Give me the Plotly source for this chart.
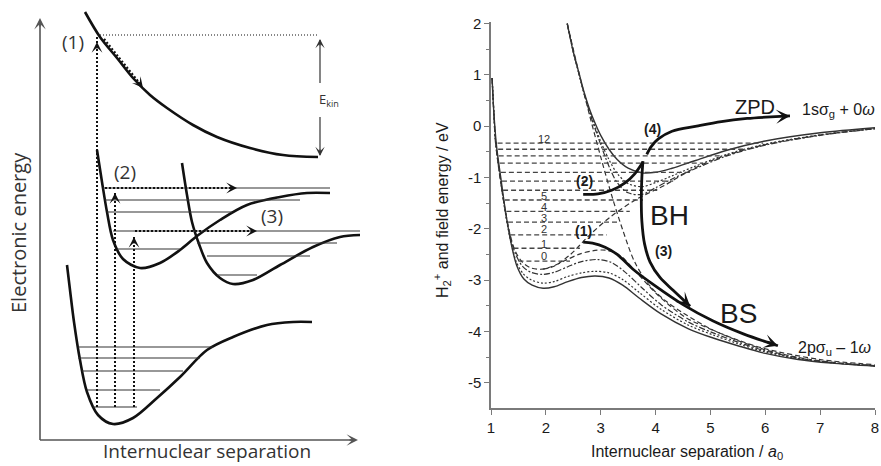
import plotly.graph_objects as go

W, H = 881, 466

# ================= LEFT PANEL: schematic potential curves =================
# schematic units: R (internuclear separation), E (electronic energy)
upper_R = [45, 60, 77, 93, 110, 127, 153, 177, 210, 243, 278]
upper_E = [428, 403, 382, 362, 345, 332, 315, 303, 292, 285, 283]

wellA_R = [57, 62, 67, 73, 83, 100, 120, 140, 157, 180, 207, 240, 267, 290]
wellA_E = [290, 258, 228, 200, 181, 172, 177, 190, 204, 220, 235, 243, 247, 247]

wellB_R = [142, 147, 152, 159, 167, 180, 193, 213, 240, 273, 300, 320]
wellB_E = [277, 245, 218, 196, 177, 162, 156, 160, 175, 193, 203, 205]

ground_R = [27, 30, 34, 40, 47, 58, 73, 93, 117, 140, 167, 193, 227, 253, 272]
ground_E = [175, 150, 118, 80, 48, 25, 16, 22, 42, 63, 90, 103, 115, 118, 118]

ground_lvl_E = [93, 82, 69, 50, 33]
ground_lvl_R0 = [38, 38, 42, 47, 53]
ground_lvl_R1 = [173, 160, 143, 120, 97]

exc_lvl_E = [252, 240, 228, 209, 197, 191, 184, 165]
exc_lvl_R0 = [63, 65, 67, 73, 157, 77, 167, 177]
exc_lvl_R1 = [290, 260, 192, 320, 297, 140, 270, 217]

exc_R = [57, 75, 94]
exc_top_E = [405, 247, 203]
exc_start_E = 33

# ================= RIGHT PANEL: H2+ dressed potentials =================
L_solid_x = [1.02, 1.05, 1.1, 1.18, 1.27, 1.37, 1.47, 1.6, 1.75, 1.95, 2.15, 2.4, 2.65, 2.9, 3.15, 3.4, 3.7, 4.1, 4.6, 5.05, 5.5, 6.0, 6.6, 7.2, 8.0]
L_solid_y = [0.94, 0.3, -0.38, -1.02, -1.7, -2.3, -2.72, -2.98, -3.1, -3.16, -3.13, -3.03, -2.95, -2.92, -2.96, -3.1, -3.35, -3.66, -3.95, -4.13, -4.28, -4.43, -4.55, -4.62, -4.68]

L_dot_x = [1.02, 1.05, 1.09, 1.17, 1.26, 1.36, 1.46, 1.59, 1.74, 1.95, 2.15, 2.4, 2.65, 2.9, 3.15, 3.4, 3.7, 4.1, 4.6, 5.05, 5.5, 6.0, 6.6, 7.2, 8.0]
L_dot_y = [0.94, 0.3, -0.35, -1.0, -1.68, -2.25, -2.64, -2.88, -3.0, -3.06, -3.03, -2.93, -2.86, -2.83, -2.86, -2.99, -3.24, -3.57, -3.88, -4.07, -4.24, -4.4, -4.53, -4.61, -4.67]

L_dd_x = [1.02, 1.05, 1.08, 1.16, 1.25, 1.35, 1.45, 1.58, 1.73, 1.95, 2.15, 2.4, 2.65, 2.95, 3.2, 3.45, 3.75, 4.1, 4.6, 5.05, 5.5, 6.0, 6.6, 7.2, 8.0]
L_dd_y = [0.94, 0.3, -0.3, -0.95, -1.6, -2.15, -2.5, -2.74, -2.85, -2.89, -2.85, -2.74, -2.64, -2.6, -2.66, -2.85, -3.15, -3.48, -3.82, -4.03, -4.21, -4.38, -4.52, -4.61, -4.67]

L_dash_x = [1.02, 1.05, 1.08, 1.15, 1.24, 1.34, 1.44, 1.57, 1.72, 1.9, 2.1, 2.35, 2.6, 2.85, 3.1, 3.35, 3.65, 4.05, 4.55, 5.05, 5.5, 6.0, 6.6, 7.2, 8.0]
L_dash_y = [0.94, 0.3, -0.28, -0.9, -1.52, -2.08, -2.43, -2.65, -2.76, -2.79, -2.74, -2.62, -2.5, -2.43, -2.42, -2.52, -2.85, -3.3, -3.73, -3.98, -4.18, -4.36, -4.51, -4.6, -4.67]

U_x = [2.39, 2.5, 2.6, 2.7, 2.8, 2.9, 3.0, 3.15, 3.3, 3.5, 3.75, 4.0, 4.3, 4.7, 5.3, 6.0, 7.0, 8.0]
U_solid_y = [2.0, 1.45, 1.05, 0.65, 0.32, 0.05, -0.18, -0.45, -0.65, -0.82, -0.91, -0.9, -0.82, -0.68, -0.47, -0.29, -0.13, -0.03]
U_dot_y = [2.0, 1.45, 1.04, 0.63, 0.28, -0.02, -0.3, -0.65, -0.92, -1.12, -1.18, -1.1, -0.97, -0.79, -0.55, -0.35, -0.17, -0.05]
U_dd_y = [2.0, 1.45, 1.03, 0.62, 0.26, -0.06, -0.36, -0.78, -1.1, -1.3, -1.33, -1.2, -1.03, -0.84, -0.58, -0.37, -0.18, -0.05]

D1_x = [1.95, 2.15, 2.45, 2.8, 3.2, 3.66, 4.17, 4.6, 5.0, 5.5, 6.0, 6.6, 7.3, 8.0]
D1_y = [-2.79, -2.73, -2.5, -2.12, -1.75, -1.42, -1.15, -0.88, -0.68, -0.5, -0.36, -0.24, -0.13, -0.05]

D2_x = [2.39, 2.6, 2.8, 3.0, 3.2, 3.4, 3.62, 3.9, 4.2, 4.5, 5.0, 5.5, 6.0, 7.0, 8.0]
D2_y = [2.0, 1.05, 0.2, -0.6, -1.35, -2.02, -2.65, -3.12, -3.42, -3.64, -3.95, -4.17, -4.34, -4.55, -4.65]

lvl_y = [-2.63, -2.38, -2.12, -1.87, -1.66, -1.44, -1.25, -1.07, -0.90, -0.72, -0.58, -0.45, -0.33]
lvl_x0 = [1.5, 1.41, 1.35, 1.31, 1.28, 1.25, 1.22, 1.2, 1.18, 1.16, 1.14, 1.13, 1.12]
lvl_x1 = [2.44, 2.62, 3.11, 3.3, 3.53, 3.77, 4.03, 4.32, 4.63, 4.86, 5.2, 5.6, 5.96]
lvl_labels = ["0", "1", "2", "3", "4", "5", "12"]
lvl_label_y = [-2.53, -2.3, -2.01, -1.79, -1.58, -1.36, -0.25]

arr1_x = [2.68, 2.85, 3.08, 3.3, 3.6, 4.0, 4.5, 5.05, 5.6, 6.23]
arr1_y = [-2.26, -2.28, -2.36, -2.5, -2.8, -3.12, -3.48, -3.8, -4.05, -4.28]
arr2_x = [2.68, 2.95, 3.2, 3.45, 3.62, 3.77]
arr2_y = [-1.33, -1.32, -1.25, -1.1, -0.93, -0.7]
arr3_x = [3.77, 3.75, 3.74, 3.75, 3.8, 3.9, 4.08, 4.32, 4.63]
arr3_y = [-0.68, -1.0, -1.4, -1.85, -2.3, -2.65, -2.95, -3.2, -3.51]
arr4_x = [3.84, 3.92, 4.05, 4.3, 4.75, 5.2, 5.67, 6.1, 6.45]
arr4_y = [-0.55, -0.4, -0.25, -0.1, 0.0, 0.09, 0.15, 0.18, 0.2]

fig = go.Figure()

LFONT = "Open Sans, DejaVu Sans, sans-serif"
RFONT = "Arial, Liberation Sans, sans-serif"


def lline(xs, ys, width=2.6, dash="solid", color="#111111", xa="x", ya="y", spline=True):
    fig.add_trace(go.Scatter(
        x=xs, y=ys, mode="lines", xaxis=xa, yaxis=ya, hoverinfo="skip",
        line=dict(color=color, width=width, dash=dash,
                  shape="spline" if spline else "linear", smoothing=0.9),
        showlegend=False))


def head(x, y, ax, ay, xa="x", ya="y", width=1.5, size=1.2, color="#111111"):
    fig.add_annotation(x=x, y=y, ax=ax, ay=ay, xref=xa, yref=ya,
                       axref=xa, ayref=ya, showarrow=True, arrowhead=3,
                       arrowsize=size, arrowwidth=width, arrowcolor=color,
                       text="", standoff=0)


# ---- left panel curves ----
lline(upper_R, upper_E)
lline(wellA_R, wellA_E)
lline(wellB_R, wellB_E)
lline(ground_R, ground_E)

for e, r0, r1 in zip(ground_lvl_E, ground_lvl_R0, ground_lvl_R1):
    lline([r0, r1], [e, e], width=1.2, color="#333333", spline=False)
for e, r0, r1 in zip(exc_lvl_E, exc_lvl_R0, exc_lvl_R1):
    lline([r0, r1], [e, e], width=1.2, color="#333333", spline=False)

DOT = "2px,2px"
for r, top in zip(exc_R, exc_top_E):
    lline([r, r], [exc_start_E, top], width=2, dash=DOT, spline=False)
head(exc_R[0], 398, exc_R[0], 390)
head(exc_R[1], exc_top_E[1], exc_R[1], exc_top_E[1] - 8)
head(exc_R[2], exc_top_E[2], exc_R[2], exc_top_E[2] - 8)

# top dotted reference line
lline([60, 278], [405, 405], width=1.2, dash="1px,2px", spline=False)
# horizontal dotted arrows (2) and (3)
lline([65, 195], [252, 252], width=2.2, dash=DOT, spline=False)
head(197, 252, 189, 252)
lline([95, 215], [209, 209], width=2.2, dash=DOT, spline=False)
head(217, 209, 209, 209)
# diagonal dotted arrow along repulsive curve
lline([64, 101], [401, 355], width=2.2, dash=DOT, spline=False)
head(103, 352, 97, 359.5)
# E_kin double arrow
lline([280, 280], [357, 400], width=1.2, color="#333333", spline=False)
lline([280, 280], [323, 285], width=1.2, color="#333333", spline=False)
head(280, 401, 280, 393, width=1.2, size=1.3, color="#333333")
head(280, 284, 280, 292, width=1.2, size=1.3, color="#333333")

# axes arrows
lline([0, 0], [0, 420], width=1.6, color="#555555", spline=False)
lline([0, 316], [0, 0], width=1.6, color="#555555", spline=False)
head(0, 422, 0, 412, width=1.6, size=1.2, color="#555555")
head(318, 0, 308, 0, width=1.6, size=1.2, color="#555555")

left_texts = [
    ("(1)", 33, 398, 19, 0),
    ("(2)", 85, 268, 19, 0),
    ("(3)", 232, 224, 19, 0),
    ("E<sub>kin</sub>", 289, 340, 13, 0),
    ("Electronic energy", -22, 207, 20, -90),
    ("Internuclear separation", 167, -11, 19, 0),
]
for t, x, y, s, ang in left_texts:
    fig.add_annotation(x=x, y=y, xref="x", yref="y", text=t, showarrow=False,
                       textangle=ang, xanchor="center", yanchor="middle",
                       font=dict(family=LFONT, size=s, color="#333333"))

# ---- right panel curves ----
PC = "#333333"
lline(L_solid_x, L_solid_y, width=1.4, color=PC, xa="x2", ya="y2")
lline(L_dot_x, L_dot_y, width=1.2, dash="2px,2px", color=PC, xa="x2", ya="y2")
lline(L_dd_x, L_dd_y, width=1.2, dash="6px,2px,2px,2px", color=PC, xa="x2", ya="y2")
lline(L_dash_x, L_dash_y, width=1.2, dash="5px,3px", color=PC, xa="x2", ya="y2")
lline(U_x, U_solid_y, width=1.4, color=PC, xa="x2", ya="y2")
lline(U_x, U_dot_y, width=1.2, dash="2px,2px", color=PC, xa="x2", ya="y2")
lline(U_x, U_dd_y, width=1.2, dash="6px,2px,2px,2px", color=PC, xa="x2", ya="y2")
lline(D1_x, D1_y, width=1.2, dash="5px,3px", color=PC, xa="x2", ya="y2")
lline(D2_x, D2_y, width=1.2, dash="5px,3px", color=PC, xa="x2", ya="y2")

for y, x0, x1 in zip(lvl_y, lvl_x0, lvl_x1):
    lline([x0, x1], [y, y], width=1.3, dash="5px,3px", color="#444444",
          xa="x2", ya="y2", spline=False)

for t, y in zip(lvl_labels, lvl_label_y):
    fig.add_annotation(x=1.97, y=y, xref="x2", yref="y2", text=t, showarrow=False,
                       xanchor="center", yanchor="middle",
                       font=dict(family=RFONT, size=11, color="#333333"))

# thick process arrows
for xs, ys in [(arr1_x, arr1_y), (arr2_x, arr2_y), (arr3_x, arr3_y), (arr4_x, arr4_y)]:
    lline(xs, ys, width=2.8, color="#111111", xa="x2", ya="y2")
    head(xs[-1], ys[-1], xs[-1] - (xs[-1] - xs[-2]) * 0.35, ys[-1] - (ys[-1] - ys[-2]) * 0.35,
         xa="x2", ya="y2", width=2.6, size=0.9)

right_texts = [
    ("<b>(1)</b>", 2.68, -2.05, 14),
    ("<b>(2)</b>", 2.71, -1.07, 14),
    ("<b>(3)</b>", 4.14, -2.44, 14),
    ("<b>(4)</b>", 3.95, -0.06, 14),
    ("BH", 4.26, -1.75, 28),
    ("BS", 5.52, -3.65, 28),
    ("ZPD", 5.81, 0.37, 20),
    ("1sσ<sub>g</sub> + 0<i>ω</i>", 7.33, 0.31, 16),
    ("2pσ<sub>u</sub> – 1<i>ω</i>", 7.27, -4.34, 16),
]
for t, x, y, s in right_texts:
    fig.add_annotation(x=x, y=y, xref="x2", yref="y2", text=t, showarrow=False,
                       xanchor="center", yanchor="middle",
                       font=dict(family=RFONT, size=s, color="#1a1a1a"))

# axis titles of right panel
fig.add_annotation(x=442 / W, y=(H - 210) / H, xref="paper", yref="paper",
                   text="H<sub>2</sub><sup>+</sup> and field energy / eV", textangle=-90,
                   xanchor="center", yanchor="middle",
                   showarrow=False, font=dict(family=RFONT, size=16, color="#1a1a1a"))
fig.add_annotation(x=687 / W, y=(H - 452) / H, xref="paper", yref="paper",
                   text="Internuclear separation / <i>a</i><sub>0</sub>",
                   xanchor="center", yanchor="middle",
                   showarrow=False, font=dict(family=RFONT, size=16, color="#1a1a1a"))

xt = [1, 2, 3, 4, 5, 6, 7, 8]
yt = [-5, -4, -3, -2, -1, 0, 1, 2]
AX = "#7a7a7a"
fig.update_layout(
    width=W, height=H, margin=dict(l=0, r=0, t=0, b=0, autoexpand=False),
    paper_bgcolor="white", plot_bgcolor="white", showlegend=False,
    xaxis=dict(domain=[0, 370 / W], range=[-40, 330], visible=False),
    yaxis=dict(domain=[0, 1], range=[-26, 440], visible=False),
    xaxis2=dict(domain=[491 / W, 875 / W], range=[1, 8], anchor="y2",
                showline=True, linecolor=AX, linewidth=1.5, ticks="outside",
                ticklen=5, tickwidth=1.3, tickcolor=AX, tickvals=xt,
                ticktext=[str(v) for v in xt], showgrid=False, zeroline=False,
                tickfont=dict(family=RFONT, size=15, color="#1a1a1a")),
    yaxis2=dict(domain=[(H - 408.3) / H, (H - 22.0) / H], range=[-5.5, 2.03], anchor="x2",
                showline=True, linecolor=AX, linewidth=1.5, ticks="outside",
                ticklen=5, tickwidth=1.3, tickcolor=AX, tickvals=yt,
                ticktext=[str(v) for v in yt], showgrid=False, zeroline=False,
                minor=dict(tickvals=[v + 0.5 for v in yt[:-1]],
                           ticks="outside", ticklen=3, tickcolor=AX),
                tickfont=dict(family=RFONT, size=15, color="#1a1a1a")),
)

fig.write_html("out.html", config={"displayModeBar": False},
               post_script="document.body.style.margin='0px';")
